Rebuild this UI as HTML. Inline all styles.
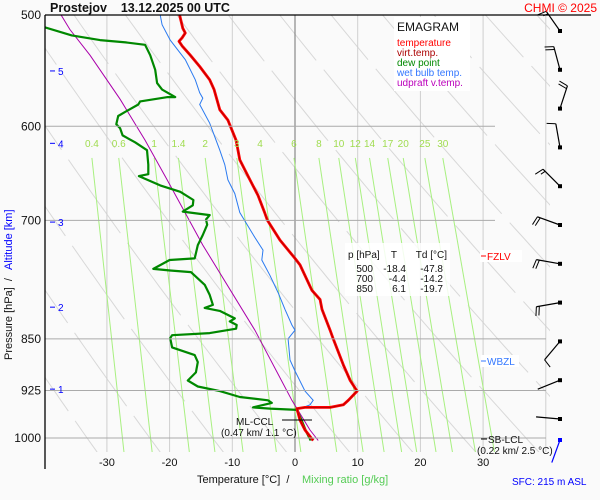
<!DOCTYPE html>
<html><head><meta charset="utf-8">
<style>
html,body{margin:0;padding:0;background:#fafafa;}
#wrap{position:relative;width:600px;height:500px;overflow:hidden;background:#fafafa;font-family:"Liberation Sans",sans-serif;}
svg{position:absolute;left:0;top:0;}
svg text{font-family:"Liberation Sans",sans-serif;}
</style></head>
<body>
<div id="wrap">
<svg id="chart" width="600" height="500" viewBox="0 0 600 500">
  <defs><clipPath id="plotclip"><rect x="45" y="15" width="505" height="437"/></clipPath></defs>
  <g id="grid" clip-path="url(#plotclip)"></g>
  <g id="series" clip-path="url(#plotclip)"></g>
  <g id="axes"></g>
  <g id="winds"></g>
  <g id="labels">
    <text x="50" y="12" font-size="12.5" font-weight="bold" fill="#111" xml:space="preserve">Prostejov    13.12.2025 00 UTC</text>
    <text x="597" y="12" font-size="12" fill="#f00" text-anchor="end">CHMI © 2025</text>
    <rect x="394" y="17" width="76" height="74" fill="#fff"/>
    <text x="397" y="31" font-size="12" fill="#111">EMAGRAM</text>
    <text x="397" y="46" font-size="10" fill="#f00">temperature</text>
    <text x="397" y="56" font-size="10" fill="#a00">virt.temp.</text>
    <text x="397" y="66" font-size="10" fill="#080">dew point</text>
    <text x="397" y="76" font-size="10" fill="#37f">wet bulb temp.</text>
    <text x="397" y="86" font-size="10" fill="#b0b">udpraft v.temp.</text>
    <rect x="345" y="243" width="105" height="53" fill="#fff" fill-opacity="0.85"/>
    <g font-size="10" fill="#111">
      <text x="348" y="258">p [hPa]</text><text x="397" y="258" text-anchor="end">T</text><text x="447" y="258" text-anchor="end">Td [°C]</text>
      <text x="373" y="272" text-anchor="end">500</text><text x="406" y="272" text-anchor="end">-18.4</text><text x="443" y="272" text-anchor="end">-47.8</text>
      <text x="373" y="282" text-anchor="end">700</text><text x="406" y="282" text-anchor="end">-4.4</text><text x="443" y="282" text-anchor="end">-14.2</text>
      <text x="373" y="292" text-anchor="end">850</text><text x="406" y="292" text-anchor="end">6.1</text><text x="443" y="292" text-anchor="end">-19.7</text>
    </g>
    <rect x="480" y="250" width="42" height="12" fill="#fff"/>
    <line x1="481" y1="256" x2="486" y2="256" stroke="#f00"/>
    <text x="487" y="260" font-size="10" fill="#f00">FZLV</text>
    <rect x="481" y="355" width="38" height="12" fill="#fff"/>
    <line x1="481" y1="361" x2="486" y2="361" stroke="#37f"/>
    <text x="487" y="365" font-size="10" fill="#37f">WBZL</text>
    <line x1="481" y1="439" x2="487" y2="439" stroke="#000"/>
    <text x="488" y="443" font-size="10" fill="#111">SB-LCL</text>
    <text x="477" y="454" font-size="10" fill="#111">(0.22 km/ 2.5 °C)</text>
    <line x1="282" y1="420" x2="312" y2="420" stroke="#000"/>
    <text x="236" y="425" font-size="10" fill="#111">ML-CCL</text>
    <text x="221" y="436" font-size="10" fill="#111">(0.47 km/ 1.1 °C)</text>
    <text x="197" y="483" font-size="11" fill="#111" xml:space="preserve">Temperature [°C]  /</text>
    <text x="302" y="483" font-size="11" fill="#5c5">Mixing ratio [g/kg]</text>
    <text x="512" y="485" font-size="10" fill="#00f">SFC: 215 m ASL</text>
    <g transform="translate(12,360) rotate(-90)">
      <text x="0" y="0" font-size="11" fill="#111" xml:space="preserve">Pressure [hPa]  /</text>
      <text x="90" y="0" font-size="11" fill="#00f">Altitude [km]</text>
    </g>
  </g>
</svg>
</div>
<script>
// ---- data ----
const pressureTicks = [500, 600, 700, 850, 925, 1000];
const tempTicks = [-30, -20, -10, 0, 10, 20, 30];
const isotherms = [-40, -30, -20, -10, 0, 10, 20, 30, 40];
const mixingRatios = [0.4, 0.6, 1, 1.4, 2, 3, 4, 6, 8, 10, 12, 14, 17, 20, 25, 30];
const mixingLabels = ["0.4","0.6","1","1.4","2","3","4","6","8","10","12","14","17","20","25","30"];
const thetas = [240,250,260,270,280,290,300,310,320,330,340,350,360,370,380];
const altitudeKm = [1, 2, 3, 4, 5];
const altitudePressure = [923, 807, 702, 617, 548];

const tempP = [500,511,515,519,522,526,534,544,556,565,584,594,614,634,655,672,692,700,723,745,753,785,797,810,838,850,887,910,926,940,947,951,951,953,971,987,1004];
const tempT = [-18.4,-17.9,-17.5,-18,-18.5,-18,-16.7,-15.2,-13.6,-12.9,-12,-10.7,-9.4,-8.8,-7.2,-5.9,-4.8,-4.4,-2.4,0,0.8,2.7,4,4.3,5.6,6.1,7.7,8.8,9.9,8.5,7.7,5.6,1.6,0.3,0.8,1.6,2.9];

const dewP = [510,517,521,523,525,534,547,559,565,572,572,576,579,586,590,598,602,609,616,624,639,649,651,661,668,677,683,690,694,699,705,717,729,745,747,758,760,762,778,791,804,808,812,822,826,831,836,842,845,849,862,873,883,898,910,919,926,935,940,944,951,953,955,970,990,1004];
const dewT = [-40,-35.6,-31.1,-27,-23.9,-23.1,-22.3,-22,-21.2,-19.1,-20.3,-24.7,-25,-27.1,-28.2,-28.5,-27.9,-27.5,-25.5,-23.6,-23.4,-23.4,-24.9,-21.5,-18.3,-16.2,-16.3,-17.9,-13.6,-14.2,-14,-14.7,-15.5,-16,-20,-22.6,-19.9,-16.6,-14.4,-13.6,-13.1,-14.4,-12,-9.6,-10.4,-9.3,-9.4,-13.6,-19.6,-19.9,-19.6,-16,-15.5,-15.8,-17.1,-15.5,-12,-8.8,-4.3,-3.7,-6.7,-4,0.3,1,1.8,2.5];

const wetP = [500,508,521,538,556,568,573,579,597,624,639,655,670,691,720,735,747,766,788,810,831,838,850,880,896,926,940,947,955,971,987,1004];
const wetT = [-21.5,-21.2,-19.9,-17.5,-15.9,-15.2,-14.7,-15.2,-13.6,-12,-11.2,-10.7,-9.6,-8.8,-6.4,-5.1,-5.3,-4,-2.7,-1.6,-0.5,0,-1.1,-0.8,0,1.6,2.9,2.4,0.2,0.8,1.5,2.7];

const parcelP = [500,512,534,574,614,655,729,838,940,987,1004];
const parcelT = [-37.3,-35.9,-32.7,-27.9,-23.9,-20.4,-14.7,-6.4,-0.5,2.4,3.7];

const windP = [502,533,566,602,638,676,712,750,788,830,869,893];
const windDir = [325,345,18,350,315,290,280,260,220,248,275,200];
const windKt = [15,20,20,10,15,20,20,20,10,5,5,5];

// ---- axis functions ----
const X0 = 295, XS = 6.27, Y0 = 15, YS = 610.3;
function xT(t){ return X0 + XS * t; }
function yP(p){ return Y0 + YS * Math.log(p / 500); }
const NS = 'http://www.w3.org/2000/svg';
function mk(tag, attrs, parent){
  const e = document.createElementNS(NS, tag);
  for (const k in attrs) e.setAttribute(k, attrs[k]);
  parent.appendChild(e);
  return e;
}
const grid = document.getElementById('grid');
const series = document.getElementById('series');
const axes = document.getElementById('axes');
const winds = document.getElementById('winds');

// dry adiabats
thetas.forEach(th => {
  let d = '';
  for (let p = 480; p <= 1060; p += 10) {
    const t = th * Math.pow(p / 1000, 0.2857) - 273.15;
    d += (d ? 'L' : 'M') + xT(t).toFixed(1) + ' ' + yP(p).toFixed(1);
  }
  const el = mk('path', {d: d, fill: 'none', stroke: '#d8d8d8', 'stroke-width': 1, 'stroke-dasharray': '90 12'}, grid);
  
  
});

// isotherms
isotherms.forEach(t => {
  const el = mk('line', {x1: xT(t), x2: xT(t), y1: 15, y2: 452, stroke: t === 0 ? '#888' : '#cfcfcf', 'stroke-width': t === 0 ? 1.2 : 1}, grid);
  
  
});

// mixing ratio lines
function tdFromW(w, p){
  const e = w * p / (622 + w);
  const l = Math.log(e / 6.112);
  return 243.5 * l / (17.67 - l);
}
mixingRatios.forEach((w, i) => {
  const p1 = 632, p2 = 1030;
  const el = mk('line', {x1: xT(tdFromW(w, p1)), y1: yP(p1), x2: xT(tdFromW(w, p2)), y2: yP(p2), stroke: '#a8f080', 'stroke-width': 1}, grid);
  
  
  const tx = mk('text', {x: xT(tdFromW(w, p1)), y: 147, 'font-size': 10, fill: '#a0dc50', 'text-anchor': 'middle'}, axes);
  tx.textContent = mixingLabels[i];
  
  
});

// isobars
pressureTicks.forEach(p => {
  const xe = (p === 600 || p === 700) ? 495 : 546;
  if (p !== 500) {
    const el = mk('line', {x1: 45, x2: xe, y1: yP(p), y2: yP(p), stroke: '#aaa', 'stroke-width': 1}, axes);
    
    
  }
  const tx = mk('text', {x: 41, y: yP(p) + 4, 'font-size': 12, fill: '#111', 'text-anchor': 'end'}, axes);
  tx.textContent = String(p);
  
  
});

// axes frame
let ax = mk('line', {x1: 45, x2: 45, y1: 15, y2: 469, stroke: '#000', 'stroke-width': 1.3}, axes);


ax = mk('line', {x1: 45, x2: 591, y1: 15, y2: 15, stroke: '#000', 'stroke-width': 1.3}, axes);



tempTicks.forEach(t => {
  const tx = mk('text', {x: xT(t), y: 466, 'font-size': 11, fill: '#111', 'text-anchor': 'middle'}, axes);
  tx.textContent = String(t);
  
  
});

altitudeKm.forEach((k, i) => {
  const y = yP(altitudePressure[i]);
  const ln = mk('line', {x1: 50, x2: 55, y1: y, y2: y, stroke: '#00f', 'stroke-width': 1}, axes);
  
  
  const tx = mk('text', {x: 58, y: y + 4, 'font-size': 10, fill: '#00f'}, axes);
  tx.textContent = String(k);
  
  
});

function pathFrom(P, T){
  return P.map((p, i) => (i ? 'L' : 'M') + xT(T[i]).toFixed(1) + ' ' + yP(p).toFixed(1)).join('');
}
let s;
s = mk('path', {d: pathFrom(parcelP, parcelT), fill: 'none', stroke: '#a0a', 'stroke-width': 1}, series);


s = mk('path', {d: pathFrom(wetP, wetT), fill: 'none', stroke: '#2a7af0', 'stroke-width': 1}, series);


s = mk('path', {d: pathFrom(dewP, dewT), fill: 'none', stroke: '#080', 'stroke-width': 2.2, 'stroke-linejoin': 'round'}, series);


s = mk('path', {d: pathFrom(tempP, tempT), fill: 'none', stroke: '#f00', 'stroke-width': 2.8, 'stroke-linejoin': 'round'}, series);


s = mk('path', {d: pathFrom(tempP, tempT), fill: 'none', stroke: '#900', 'stroke-width': 0.6}, series);



// wind barbs
windP.forEach((p, i) => {
  const cx = 560, cy = (i === windP.length - 1) ? 440 : 31 + i * 38.8;
  const col = (i === windP.length - 1) ? '#00f' : '#000';
  const a = windDir[i] * Math.PI / 180;
  const L = 24;
  const ux = Math.sin(a), uy = -Math.cos(a);
  const ex = cx + ux * L, ey = cy + uy * L;
  const g = mk('g', {}, winds);
  
  
  mk('line', {x1: cx, y1: cy, x2: ex, y2: ey, stroke: col, 'stroke-width': 1.2}, g);
  mk('rect', {x: cx - 2, y: cy - 2, width: 4, height: 4, fill: col}, g);
  let n = Math.floor(windKt[i] / 10), half = (windKt[i] % 10) >= 5;
  const px = -Math.cos(a), py = -Math.sin(a);
  let k = 0;
  for (let j = 0; j < n; j++, k++) {
    const bx = ex - ux * k * 3, by = ey - uy * k * 3;
    mk('line', {x1: bx, y1: by, x2: bx + px * 9 + ux * 2, y2: by + py * 9 + uy * 2, stroke: col, 'stroke-width': 1}, g);
  }
  if (half && n > 0) {
    const bx = ex - ux * k * 3, by = ey - uy * k * 3;
    mk('line', {x1: bx, y1: by, x2: bx + px * 5 + ux, y2: by + py * 5 + uy, stroke: col, 'stroke-width': 1}, g);
  }
});
</script>
</body></html>
